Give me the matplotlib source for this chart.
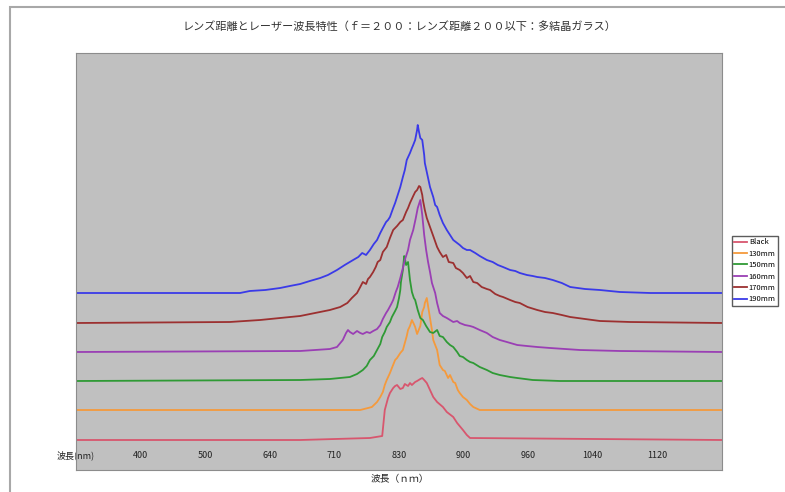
import matplotlib
matplotlib.use("Agg")
import matplotlib.pyplot as plt
from matplotlib.patches import Rectangle

plt.rcParams['font.family'] = ['Noto Sans CJK JP', 'DejaVu Sans']

title = "レンズ距離とレーザー波長特性（ｆ＝２００：レンズ距離２００以下：多結晶ガラス）"
xlabel = "波長（ｎｍ）"
tick_pos = [0, 100, 200, 300, 400, 500, 600, 700, 800, 900]
tick_labels = ["波長(nm)", "400", "500", "640", "710", "830", "900", "960", "1040", "1120"]
names = ["Black", "130mm", "150mm", "160mm", "170mm", "190mm"]
colors = ["#d8566e", "#f59a3c", "#2f9a35", "#9a3fb4", "#9c3030", "#3a3ae8"]

# spectra, each already shifted up by its own offset
x_black = [0, 347, 455, 474, 478, 483, 486, 491, 494, 497, 502, 506, 509, 514, 517, 520,
           525, 528, 533, 536, 539, 543, 548, 553, 559, 568, 574, 584, 590, 599, 605, 610, 1000]
y_black = [300, 300, 320, 340, 600, 720, 770, 820, 840, 850, 810, 820, 860, 840, 870, 850,
           880, 890, 910, 920, 900, 870, 800, 730, 680, 630, 580, 530, 470, 400, 350, 320, 300]

x_130 = [0, 440, 458, 466, 471, 475, 478, 481, 486, 489, 494, 497, 502, 506, 509, 512, 514,
         517, 520, 523, 525, 528, 533, 536, 539, 540, 543, 545, 548, 551, 553, 556, 559, 563,
         568, 571, 576, 579, 584, 587, 591, 594, 599, 605, 610, 615, 625, 1000]
y_130 = [600, 600, 630, 680, 730, 780, 850, 900, 970, 1020, 1100, 1120, 1170, 1200, 1270, 1340, 1400,
         1440, 1500, 1460, 1430, 1360, 1440, 1580, 1630, 1670, 1720, 1640, 1520, 1400, 1300, 1250, 1200, 1050,
         1000, 990, 920, 950, 880, 870, 800, 770, 730, 700, 660, 630, 600, 600]

x_150 = [0, 347, 393, 424, 435, 444, 450, 455, 461, 466, 471, 474, 478, 481, 486, 489, 494, 497, 500,
         502, 503, 506, 508, 509, 511, 514, 517, 520, 523, 525, 529, 533, 537, 542, 548, 553, 559, 563,
         568, 574, 579, 584, 590, 594, 599, 605, 610, 615, 625, 636, 645, 656, 672, 683, 707, 749, 1000]
y_150 = [890, 900, 910, 930, 960, 1000, 1040, 1100, 1140, 1200, 1260, 1330, 1380, 1430, 1480, 1530, 1590, 1630, 1720,
         1800, 1880, 2000, 2140, 2120, 2050, 2080, 1900, 1780, 1720, 1700, 1600, 1520, 1500, 1440, 1380, 1370, 1400, 1340,
         1330, 1280, 1250, 1230, 1180, 1140, 1130, 1100, 1080, 1070, 1030, 1000, 970, 950, 930, 920, 900, 890, 890]

x_160 = [0, 347, 393, 404, 413, 418, 421, 424, 429, 435, 440, 444, 450, 455, 460, 466, 471, 475, 480, 483,
         488, 491, 495, 498, 502, 506, 509, 514, 517, 522, 526, 529, 533, 536, 539, 542, 545, 548, 551, 556,
         559, 563, 568, 574, 579, 584, 590, 594, 602, 610, 615, 625, 636, 645, 656, 667, 683, 698, 714, 734,
         780, 842, 1000]
y_160 = [1180, 1190, 1210, 1230, 1300, 1370, 1400, 1380, 1360, 1390, 1370, 1360, 1380, 1370, 1390, 1410, 1450, 1510, 1570, 1600,
         1660, 1700, 1780, 1830, 1920, 2020, 2100, 2200, 2300, 2400, 2520, 2620, 2700, 2550, 2350, 2200, 2080, 1980, 1870, 1770,
         1670, 1570, 1540, 1520, 1500, 1480, 1490, 1470, 1450, 1440, 1430, 1400, 1370, 1330, 1300, 1280, 1250, 1240, 1230, 1220,
         1200, 1190, 1180]

x_170 = [0, 238, 285, 316, 347, 370, 393, 409, 420, 427, 435, 440, 444, 449, 452, 455, 460, 464, 467, 471,
         475, 481, 486, 491, 497, 502, 506, 511, 514, 517, 522, 525, 528, 531, 533, 536, 537, 540, 543, 548,
         553, 559, 563, 568, 573, 577, 584, 588, 594, 599, 605, 610, 615, 621, 628, 636, 641, 649, 656, 661,
         672, 680, 687, 699, 714, 726, 738, 752, 765, 788, 811, 858, 1000]
y_170 = [1470, 1480, 1500, 1520, 1540, 1570, 1600, 1630, 1670, 1720, 1770, 1830, 1880, 1860, 1910, 1930, 1980, 2030, 2080, 2100,
         2180, 2230, 2320, 2400, 2440, 2480, 2500, 2580, 2620, 2670, 2740, 2780, 2800, 2840, 2830, 2750, 2700, 2600, 2520, 2430,
         2340, 2230, 2180, 2130, 2150, 2080, 2070, 2020, 2000, 1970, 1920, 1940, 1880, 1870, 1830, 1810, 1800, 1760, 1740, 1730,
         1700, 1680, 1670, 1630, 1600, 1580, 1570, 1550, 1530, 1510, 1490, 1480, 1470]

x_190 = [0, 254, 269, 293, 316, 331, 347, 362, 378, 390, 404, 416, 429, 437, 443, 449, 455, 461, 466, 471,
         475, 480, 483, 486, 491, 494, 497, 502, 506, 509, 512, 517, 520, 522, 525, 528, 529, 531, 533, 536,
         539, 540, 543, 548, 553, 556, 559, 563, 568, 574, 579, 584, 590, 594, 599, 605, 610, 618, 625, 636,
         645, 653, 661, 672, 680, 687, 698, 707, 714, 726, 738, 752, 765, 788, 811, 842, 889, 1000]
y_190 = [1770, 1770, 1790, 1800, 1820, 1840, 1860, 1890, 1920, 1950, 2000, 2050, 2100, 2130, 2170, 2150, 2200, 2260, 2300, 2370,
         2420, 2480, 2500, 2530, 2620, 2670, 2730, 2830, 2930, 3000, 3100, 3170, 3220, 3250, 3300, 3400, 3450, 3380, 3320, 3300,
         3150, 3070, 2980, 2830, 2730, 2650, 2630, 2550, 2470, 2400, 2350, 2300, 2270, 2250, 2220, 2200, 2200, 2170, 2140, 2100,
         2080, 2050, 2030, 2000, 1990, 1970, 1950, 1940, 1930, 1920, 1900, 1870, 1830, 1810, 1800, 1780, 1770, 1770]

series = [(x_black, y_black), (x_130, y_130), (x_150, y_150),
          (x_160, y_160), (x_170, y_170), (x_190, y_190)]

fig = plt.figure(figsize=(7.85, 4.92), dpi=100)
ax = fig.add_axes([76 / 785, 22 / 492, 646 / 785, 417 / 492])
ax.set_facecolor("#c0c0c0")

lines = []
for (xs, ys), name, c in zip(series, names, colors):
    ln, = ax.plot(xs, ys, color=c, lw=1.3, label=name)
    lines.append(ln)

ax.set_xlim(0, 1000)
ax.set_ylim(0, 4170)
ax.set_yticks([])
ax.set_xticks(tick_pos)
ax.set_xticklabels(tick_labels, fontsize=6.5, color="#222222")
ax.tick_params(axis="x", length=0, pad=-14)
for sp in ax.spines.values():
    sp.set_color("#8c8c8c")
    sp.set_linewidth(0.8)

fig.text(399 / 785, 1 - 27 / 492, title, ha="center", va="center", fontsize=8, color="#333333")
fig.text(400 / 785, 1 - 479 / 492, xlabel, ha="center", va="center", fontsize=7, color="#222222")

# outer chart frame
fig.patches.append(Rectangle((10 / 785, -0.1), 1.2, 1.1 - 7 / 492, transform=fig.transFigure,
                             fill=False, edgecolor="#a8a8a8", lw=1.5))

fig.legend(handles=lines, loc="upper left", bbox_to_anchor=(732 / 785, 1 - 236 / 492),
           fontsize=5.5, frameon=True, fancybox=False, edgecolor="#333333",
           handlelength=1.6, borderpad=0.3, labelspacing=0.45, handletextpad=0.3,
           borderaxespad=0)

fig.savefig("out.png", dpi=100)
